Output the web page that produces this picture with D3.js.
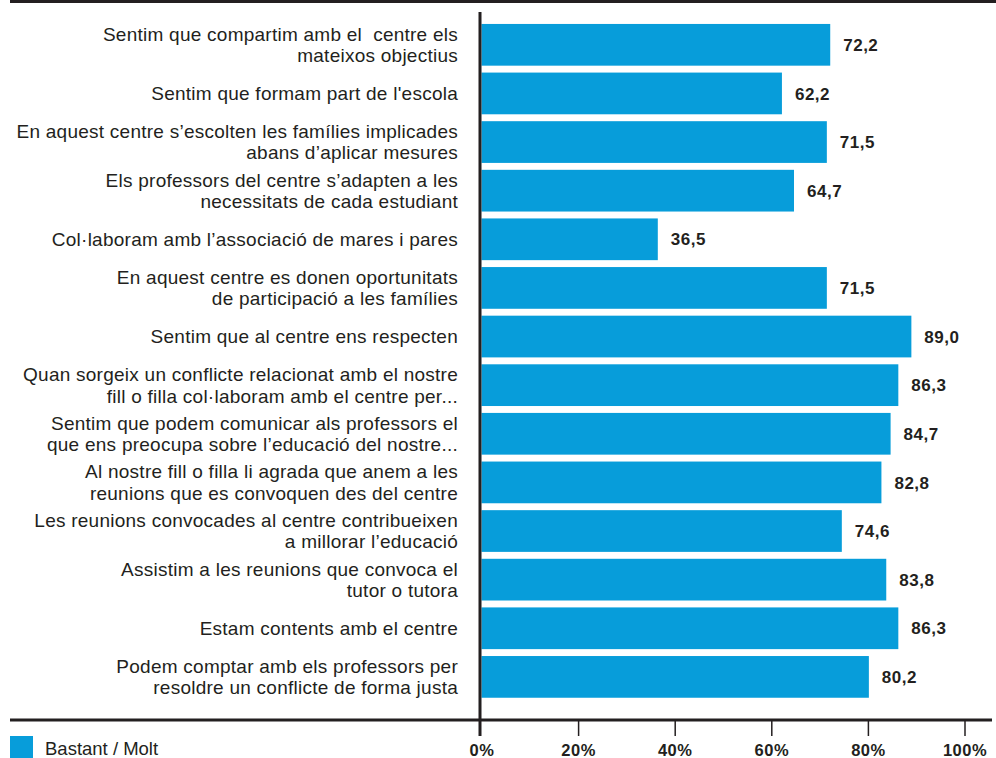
<!DOCTYPE html>
<html><head><meta charset="utf-8">
<script src="https://cdn.jsdelivr.net/npm/d3@7"></script>
<style>
html,body{margin:0;padding:0;background:#fff;}
svg{display:block;}
</style></head>
<body>
<svg id="c" width="996" height="758"></svg>
<script>
const categories = [
  "Sentim que compartim amb el\u00A0 centre els\nmateixos objectius",
  "Sentim que formam part de l'escola",
  "En aquest centre s\u2019escolten les fam\u00EDlies implicades\nabans d\u2019aplicar mesures",
  "Els professors del centre s\u2019adapten a les\nnecessitats de cada estudiant",
  "Col\u00B7laboram amb l\u2019associaci\u00F3 de mares i pares",
  "En aquest centre es donen oportunitats\nde participaci\u00F3 a les fam\u00EDlies",
  "Sentim que al centre ens respecten",
  "Quan sorgeix un conflicte relacionat amb el nostre\nfill o filla col\u00B7laboram amb el centre per...",
  "Sentim que podem comunicar als professors el\nque ens preocupa sobre l\u2019educaci\u00F3 del nostre...",
  "Al nostre fill o filla li agrada que anem a les\nreunions que es convoquen des del centre",
  "Les reunions convocades al centre contribueixen\na millorar l\u2019educaci\u00F3",
  "Assistim a les reunions que convoca el\ntutor o tutora",
  "Estam contents amb el centre",
  "Podem comptar amb els professors per\nresoldre un conflicte de forma justa"
];
const values = [72.2, 62.2, 71.5, 64.7, 36.5, 71.5, 89.0, 86.3, 84.7, 82.8, 74.6, 83.8, 86.3, 80.2];
const tickValues = [0, 20, 40, 60, 80, 100];
const tickLabels = ["0%", "20%", "40%", "60%", "80%", "100%"];
const legendLabel = "Bastant / Molt";

const barColor = "#079dda";
const ink = "#231f20";
const font = "'Liberation Sans', Arial, Helvetica, sans-serif";

const svg = d3.select("#c");
const x = d3.scaleLinear().domain([0, 100]).range([481.5, 964.5]);
const y = d3.scaleBand().domain(d3.range(categories.length)).range([20.5, 701.2])
  .paddingInner(0.142).paddingOuter(0.071);

// top border
svg.append("rect").attr("x", 10).attr("y", 0).attr("width", 986).attr("height", 3).attr("fill", ink);

// bars
svg.append("g").selectAll("rect").data(values).join("rect")
  .attr("x", x(0)).attr("y", (d, i) => y(i))
  .attr("width", d => x(d) - x(0)).attr("height", y.bandwidth())
  .attr("fill", barColor);

// value labels
const fmt = v => v.toFixed(1).replace(".", ",");
svg.append("g").selectAll("text").data(values).join("text")
  .attr("x", d => x(d) + 13).attr("y", (d, i) => y(i) + y.bandwidth() / 2)
  .attr("dy", "0.36em")
  .attr("font-family", font).attr("font-size", 17).attr("font-weight", "bold")
  .attr("letter-spacing", "0.5px")
  .attr("fill", ink).text(fmt);

// category labels
const lh = 21.5;
const cg = svg.append("g");
categories.forEach((c, i) => {
  const lines = c.split("\n");
  const cy = y(i) + y.bandwidth() / 2;
  const t = cg.append("text")
    .attr("text-anchor", "end")
    .attr("font-family", font).attr("font-size", 19)
    .attr("letter-spacing", "0.25px")
    .attr("fill", ink);
  lines.forEach((ln, j) => {
    t.append("tspan").attr("x", 458)
      .attr("y", cy + (j - (lines.length - 1) / 2) * lh)
      .attr("dy", "0.35em").text(ln);
  });
});

// x axis
const axis = d3.axisBottom(x).tickValues(tickValues)
  .tickFormat((d, i) => tickLabels[i]).tickSize(16).tickPadding(8);
const ax = svg.append("g").attr("transform", "translate(0,720)").call(axis);
ax.select(".domain").remove();
ax.selectAll(".tick line").attr("stroke", ink).attr("stroke-width", 1.5);
ax.selectAll(".tick text").attr("font-family", font).attr("font-size", 16.5)
  .attr("font-weight", "bold").attr("letter-spacing", "0.5px").attr("fill", ink);
ax.selectAll(".tick").filter(d => d === 0).select("line").attr("stroke-width", 0);

// bottom axis line
svg.append("rect").attr("x", 10).attr("y", 718.5).attr("width", 982).attr("height", 3).attr("fill", ink);
// vertical axis
svg.append("rect").attr("x", x(0) - 3).attr("y", 12).attr("width", 3).attr("height", 724).attr("fill", ink);

// legend
svg.append("rect").attr("x", 10).attr("y", 736).attr("width", 23).attr("height", 22).attr("fill", barColor);
svg.append("text").attr("x", 45).attr("y", 755).attr("font-family", font).attr("font-size", 18.5)
  .attr("fill", ink).text(legendLabel);
</script>
</body></html>
